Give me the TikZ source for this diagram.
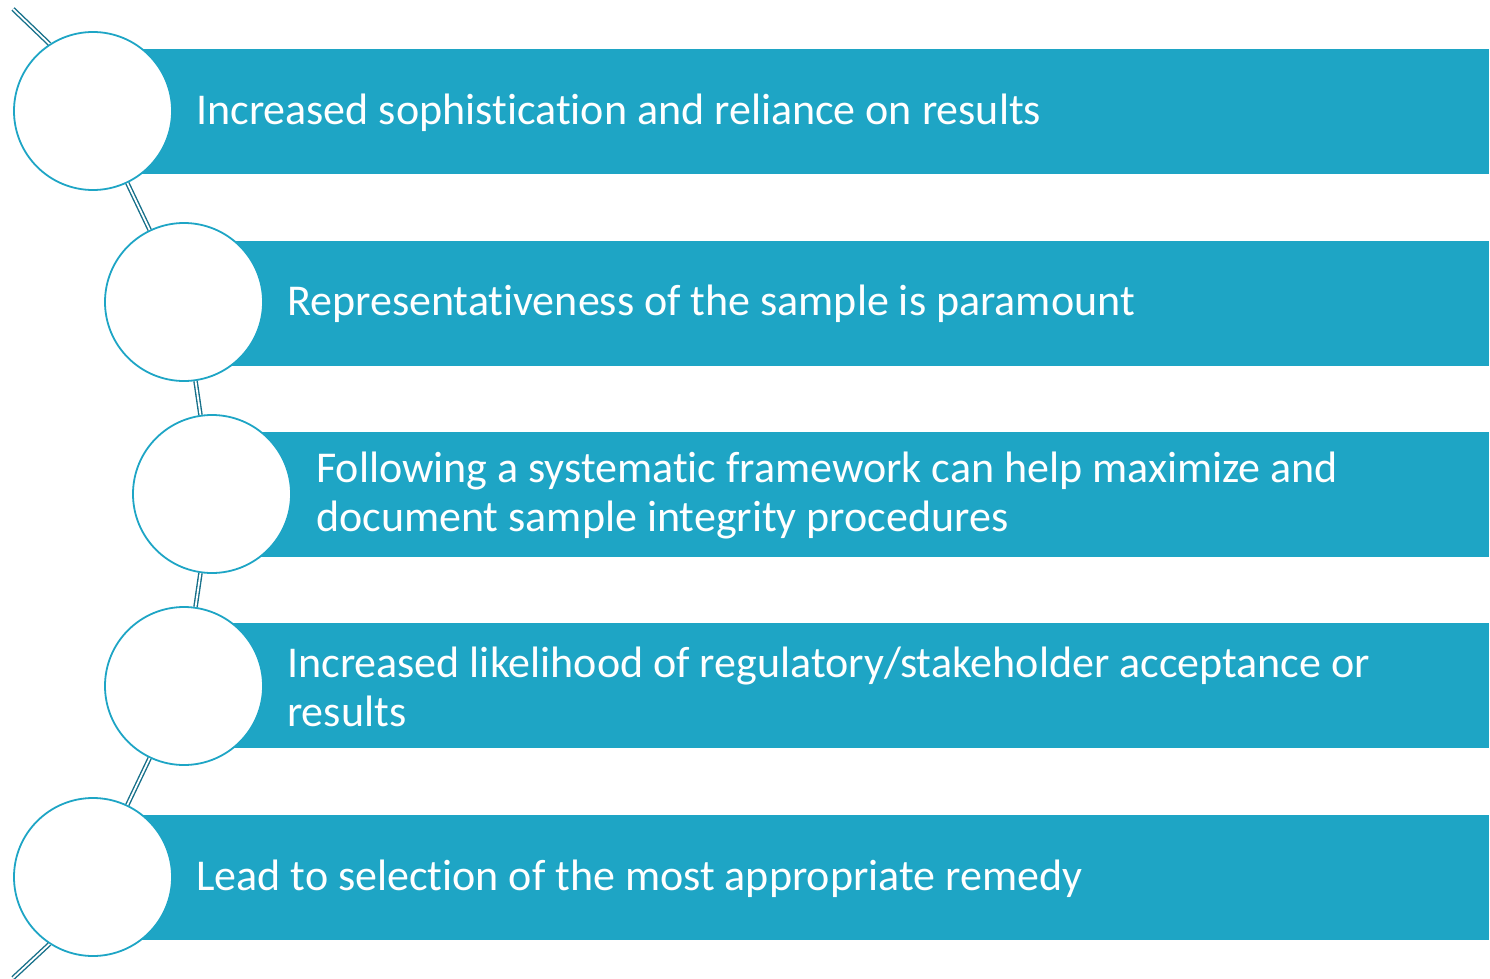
\documentclass[tikz,border=0pt]{standalone}
\usepackage{fontspec}
\setmainfont[Ligatures=NoCommon]{Carlito}
\definecolor{barteal}{RGB}{30,165,197}
\definecolor{linkteal}{RGB}{22,112,138}
\tikzset{
  bar/.style={fill=barteal, draw=none, minimum height=125pt, inner sep=0pt, anchor=west},
  ring/.style={circle, fill=white, draw=barteal, line width=1.8pt, minimum size=158pt, inner sep=0pt},
  link/.style={draw=linkteal, line width=1.4pt, double=white, double distance=1.8pt},
  label/.style={text=white, anchor=west, align=left, inner sep=0pt, font=\fontsize{44}{49}\selectfont}
}
\begin{document}
\begin{tikzpicture}[x=1pt, y=-1pt]
	\useasboundingbox (0,0) rectangle (1490,979);
	% bars first, rings go on top of them
	\foreach \i/\x/\y in {1/93/111.5, 2/184/303, 3/212/494.5, 4/184/685.5, 5/93/877.5}
		\node[bar, minimum width={1489-\x}] (b\i) at (\x,\y) {};
	\foreach \i/\x/\y in {1/93/111, 2/184/302, 3/212/494, 4/184/686, 5/93/877}
		\node[ring] (c\i) at (\x,\y) {};
	% chain between the rings
	\coordinate (top) at (13,9);
	\coordinate (bot) at (13,978);
	\draw[link] (top) -- (c1.123);
	\foreach \i/\j in {1/2, 2/3, 3/4, 4/5} \draw[link] (c\i) -- (c\j);
	\draw[link] (c5.237) -- (bot);
	% texts
	\node[label] (t1) at (196,113) {Increased sophistication and reliance on results};
	\node[label] (t2) at (287,304) {Representativeness of the sample is paramount};
	\node[label] (t3) at (316,496) {Following a systematic framework can help maximize and\\document sample integrity procedures};
	\node[label] (t4) at (287,687) {Increased likelihood of regulatory/stakeholder acceptance or\\results};
	\node[label] (t5) at (196,879) {Lead to selection of the most appropriate remedy};
\end{tikzpicture}
\end{document}
